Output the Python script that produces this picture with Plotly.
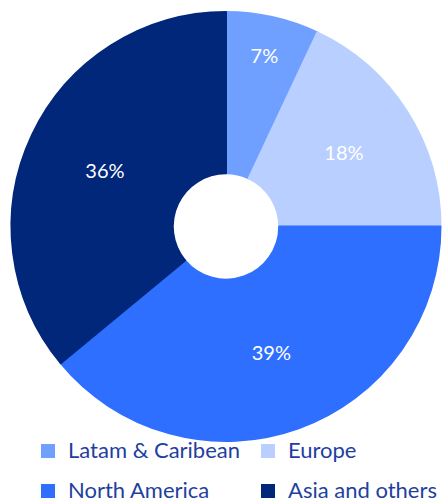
import plotly.graph_objects as go

# Revenue share by region
regions = ["Latam & Caribean", "Europe", "North America", "Asia and others"]
shares = [7, 18, 39, 36]
colors = ["#70A0FF", "#B9CFFF", "#2E6FFF", "#00277A"]

# legend rows are spaced by the legend font size; the visible text is set smaller
legend_labels = [
    f'<span style="font-size:22px;baseline-shift:4px">{r}</span>' for r in regions
]

fig = go.Figure(
    go.Pie(
        labels=legend_labels,
        values=shares,
        sort=False,
        direction="clockwise",
        rotation=0,
        hole=0.248,
        # outline in the slice colour: invisible on the ring, enlarges the legend swatches
        marker=dict(colors=colors, line=dict(color=colors, width=2)),
        textinfo="percent",
        textposition="inside",
        insidetextorientation="horizontal",
        insidetextfont=dict(color="white", size=20, family="Lato"),
        domain=dict(x=[11 / 443, 441 / 443], y=[1 - 441 / 503, 1 - 12 / 503]),
    )
)

fig.update_layout(
    width=443,
    height=503,
    margin=dict(l=0, r=0, t=0, b=0, autoexpand=False),
    paper_bgcolor="white",
    plot_bgcolor="white",
    showlegend=True,
    legend=dict(
        orientation="h",
        x=28 / 443,
        xanchor="left",
        y=1 - 426 / 503,
        yanchor="top",
        entrywidth=175,
        entrywidthmode="pixels",
        font=dict(family="Lato", size=28.5, color="#1F3F9F"),
        traceorder="normal",
        bgcolor="rgba(0,0,0,0)",
    ),
)

fig.write_html("out.html")
